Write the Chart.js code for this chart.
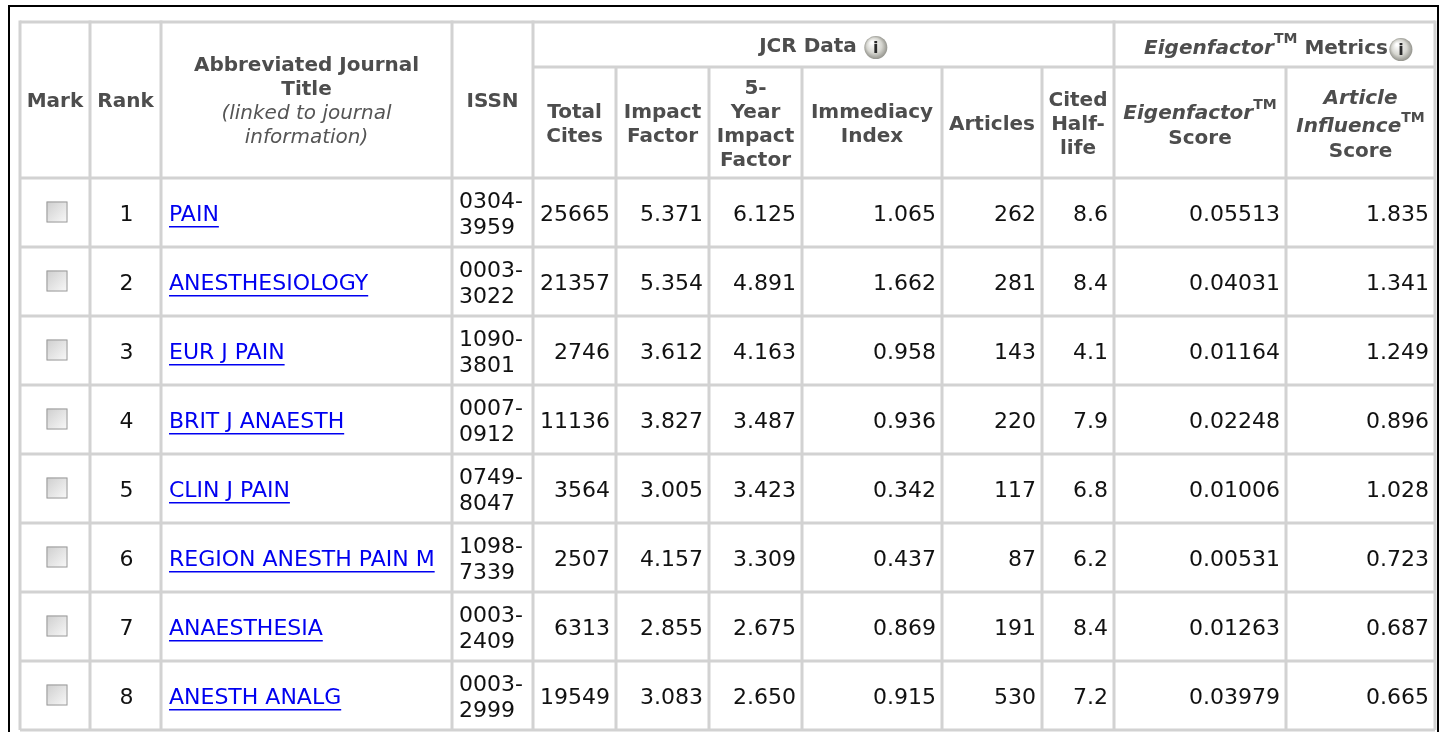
<!DOCTYPE html>
<html>
<head>
<meta charset="utf-8">
<script src="https://cdn.jsdelivr.net/npm/chart.js@4/dist/chart.umd.min.js"></script>
<style>
    html, body { margin: 0; padding: 0; background: #fff; }
    #wrap { width: 1445px; height: 732px; }
</style>
</head>
<body>
<div id="wrap"><canvas id="table" width="1445" height="732"></canvas></div>
<script>
// Table data
const ranks = [1, 2, 3, 4, 5, 6, 7, 8];
const journals = ["PAIN", "ANESTHESIOLOGY", "EUR J PAIN", "BRIT J ANAESTH", "CLIN J PAIN",
    "REGION ANESTH PAIN M", "ANAESTHESIA", "ANESTH ANALG"];
const issn = ["0304-3959", "0003-3022", "1090-3801", "0007-0912", "0749-8047",
    "1098-7339", "0003-2409", "0003-2999"];
const totalCites = [25665, 21357, 2746, 11136, 3564, 2507, 6313, 19549];
const impactFactor = [5.371, 5.354, 3.612, 3.827, 3.005, 4.157, 2.855, 3.083];
const fiveYearImpact = [6.125, 4.891, 4.163, 3.487, 3.423, 3.309, 2.675, 2.650];
const immediacyIndex = [1.065, 1.662, 0.958, 0.936, 0.342, 0.437, 0.869, 0.915];
const articles = [262, 281, 143, 220, 117, 87, 191, 530];
const citedHalfLife = [8.6, 8.4, 4.1, 7.9, 6.8, 6.2, 8.4, 7.2];
const eigenfactorScore = [0.05513, 0.04031, 0.01164, 0.02248, 0.01006, 0.00531, 0.01263, 0.03979];
const articleInfluence = [1.835, 1.341, 1.249, 0.896, 1.028, 0.723, 0.687, 0.665];

// Header labels
const groupLabels = ["JCR Data", "Eigenfactor", "Metrics"];
const leftHeaders = [["Mark"], ["Rank"], ["Abbreviated Journal", "Title"], ["ISSN"]];
const titleNote = ["(linked to journal", "information)"];
const jcrHeaders = [["Total", "Cites"], ["Impact", "Factor"], ["5-", "Year", "Impact", "Factor"],
    ["Immediacy", "Index"], ["Articles"], ["Cited", "Half-", "life"]];

// Layout (page units, mapped through the chart scales)
const colEdges = [20, 90, 161, 452, 533, 616, 709, 802, 942, 1042, 1114, 1286, 1435];
const headTop = 22, groupBottom = 67, headBottom = 178, rowHeight = 69;

const FONT = '"DejaVu Sans", Verdana, sans-serif';
const HEAD_COLOR = "#4d4d4d";
const GRID_COLOR = "#d2d2d2";

function measureRich(ctx, segs) {
    let w = 0;
    segs.forEach((s) => { ctx.font = s.font; s.w = ctx.measureText(s.t).width; w += s.w; });
    return w;
}

function drawRich(ctx, segs, x, y) {
    // segs: [{t, font, sup}] drawn left to right from x
    measureRich(ctx, segs);
    ctx.textAlign = "left";
    segs.forEach((s) => {
        ctx.font = s.font;
        ctx.fillText(s.t, x, y - (s.sup ? 9 : 0));
        x += s.w;
    });
    return x;
}

function drawRichCentered(ctx, segs, cx, y) {
    return drawRich(ctx, segs, cx - measureRich(ctx, segs) / 2, y);
}

function infoIcon(ctx, cx, cy) {
    const g = ctx.createRadialGradient(cx - 4, cy - 5, 1, cx, cy, 12);
    g.addColorStop(0, "#ffffff");
    g.addColorStop(0.6, "#d6d6d0");
    g.addColorStop(1, "#8f8f88");
    ctx.beginPath();
    ctx.arc(cx, cy, 11.5, 0, Math.PI * 2);
    ctx.fillStyle = g;
    ctx.fill();
    ctx.fillStyle = "#2a2a2a";
    ctx.font = "bold 16px " + FONT;
    ctx.textAlign = "center";
    ctx.fillText("i", cx, cy + 1);
}

function checkbox(ctx, cx, cy) {
    const g = ctx.createLinearGradient(cx - 10, cy - 10, cx + 10, cy + 10);
    g.addColorStop(0, "#cfcfcf");
    g.addColorStop(1, "#f8f8f8");
    ctx.fillStyle = g;
    ctx.fillRect(cx - 10.5, cy - 10.5, 21, 21);
    ctx.strokeStyle = "#9a9a9a";
    ctx.lineWidth = 1;
    ctx.strokeRect(cx - 10, cy - 10, 20, 20);
}

const tablePlugin = {
    id: "jcrTable",
    afterDraw(chart) {
        const ctx = chart.ctx;
        const sx = chart.scales.x, sy = chart.scales.y;
        const X = (v) => sx.getPixelForValue(v);
        const Y = (v) => sy.getPixelForValue(v);
        const rowEdges = [headBottom];
        ranks.forEach((_, i) => rowEdges.push(headBottom + rowHeight * (i + 1)));
        const bottom = rowEdges[rowEdges.length - 1];

        ctx.save();
        ctx.fillStyle = "#fff";
        ctx.fillRect(0, 0, chart.width, chart.height);

        // outer black frame
        ctx.strokeStyle = "#000";
        ctx.lineWidth = 2;
        ctx.strokeRect(X(9), Y(6), X(1438) - X(9), Y(745) - Y(6));

        // grid
        ctx.strokeStyle = GRID_COLOR;
        ctx.lineWidth = 3;
        const line = (x1, y1, x2, y2) => {
            ctx.beginPath();
            ctx.moveTo(X(x1), Y(y1));
            ctx.lineTo(X(x2), Y(y2));
            ctx.stroke();
        };
        colEdges.forEach((c, i) => {
            const full = i <= 4 || i === 10 || i === 12;
            line(c, full ? headTop - 1.5 : groupBottom, c, bottom);
        });
        line(colEdges[0], headTop, colEdges[12], headTop);
        line(colEdges[4], groupBottom, colEdges[12], groupBottom);
        rowEdges.forEach((r) => line(colEdges[0], r, colEdges[12], r));

        ctx.textBaseline = "middle";
        const mid = (i) => (X(colEdges[i]) + X(colEdges[i + 1])) / 2;
        const bold = "bold 20px " + FONT, ital = "italic bold 20px " + FONT, sup = "bold 14px " + FONT;

        // group headers, each followed by an info icon
        ctx.fillStyle = HEAD_COLOR;
        const gy = Y((headTop + groupBottom) / 2 + 2);
        let segs = [{ t: groupLabels[0], font: bold }];
        let w = measureRich(ctx, segs) + 31;
        let end = drawRich(ctx, segs, (X(colEdges[4]) + X(colEdges[10])) / 2 - w / 2, gy);
        infoIcon(ctx, end + 19, gy + 1);

        ctx.fillStyle = HEAD_COLOR;
        segs = [
            { t: groupLabels[1], font: ital },
            { t: "TM", font: sup, sup: true },
            { t: " " + groupLabels[2], font: bold },
        ];
        w = measureRich(ctx, segs) + 25;
        end = drawRich(ctx, segs, (X(colEdges[10]) + X(colEdges[12])) / 2 - w / 2 + 4, gy + 2);
        infoIcon(ctx, end + 13, gy + 3);

        // left headers spanning both header rows
        const lh = 24;
        leftHeaders.forEach((lines, i) => {
            const all = i === 2 ? lines.concat(titleNote) : lines;
            const cy = (Y(headTop) + Y(headBottom)) / 2 + 2;
            ctx.textAlign = "center";
            all.forEach((t, k) => {
                ctx.font = (k >= lines.length ? "italic 20px " : "bold 20px ") + FONT;
                ctx.fillStyle = k >= lines.length ? "#555" : HEAD_COLOR;
                ctx.fillText(t, mid(i), cy + (k - (all.length - 1) / 2) * lh);
            });
        });

        // JCR sub headers
        ctx.fillStyle = HEAD_COLOR;
        const subCy = (Y(groupBottom) + Y(headBottom)) / 2 + 2.5;
        jcrHeaders.forEach((lines, j) => {
            ctx.font = bold;
            ctx.textAlign = "center";
            lines.forEach((t, k) => {
                ctx.fillText(t, mid(4 + j), subCy + (k - (lines.length - 1) / 2) * lh);
            });
        });
        // Eigenfactor sub headers
        drawRichCentered(ctx, [{ t: "Eigenfactor", font: ital }, { t: "TM", font: sup, sup: true }], mid(10), subCy - 11);
        drawRichCentered(ctx, [{ t: "Score", font: bold }], mid(10), subCy + 14);
        drawRichCentered(ctx, [{ t: "Article", font: ital }], mid(11), subCy - 26);
        drawRichCentered(ctx, [{ t: "Influence", font: ital }, { t: "TM", font: sup, sup: true }], mid(11), subCy + 2);
        drawRichCentered(ctx, [{ t: "Score", font: bold }], mid(11), subCy + 27);

        // data rows
        const dataFont = "22px " + FONT;
        const pad = 6;
        ranks.forEach((rank, i) => {
            const cy = (Y(rowEdges[i]) + Y(rowEdges[i + 1])) / 2 + 2.5;
            checkbox(ctx, mid(0) + 2, cy - 3);
            ctx.font = dataFont;
            ctx.fillStyle = "#111";
            ctx.textAlign = "center";
            ctx.fillText(String(rank), mid(1) + 1, cy);

            // linked title
            ctx.textAlign = "left";
            ctx.fillStyle = "#0000f0";
            const tx = X(colEdges[2]) + 8;
            ctx.fillText(journals[i], tx, cy);
            const tw = ctx.measureText(journals[i]).width;
            ctx.fillRect(tx, cy + 11, tw, 1.5);

            // ISSN split over two lines
            ctx.fillStyle = "#111";
            const parts = issn[i].split("-");
            ctx.fillText(parts[0] + "-", X(colEdges[3]) + 7, cy - 13);
            ctx.fillText(parts[1], X(colEdges[3]) + 7, cy + 13);

            const vals = [
                String(totalCites[i]),
                impactFactor[i].toFixed(3),
                fiveYearImpact[i].toFixed(3),
                immediacyIndex[i].toFixed(3),
                String(articles[i]),
                citedHalfLife[i].toFixed(1),
                eigenfactorScore[i].toFixed(5),
                articleInfluence[i].toFixed(3),
            ];
            ctx.textAlign = "right";
            vals.forEach((v, j) => {
                ctx.fillText(v, X(colEdges[5 + j]) - pad, cy);
            });
        });
        ctx.restore();
    },
};

new Chart(document.getElementById("table"), {
    type: "scatter",
    data: { datasets: [{ data: [], pointRadius: 0 }] },
    options: {
        responsive: false,
        animation: false,
        events: [],
        layout: { padding: 0 },
        plugins: { legend: { display: false }, tooltip: { enabled: false } },
        scales: {
            x: { type: "linear", min: 0, max: 1445, display: false },
            y: { type: "linear", min: 0, max: 732, reverse: true, display: false },
        },
    },
    plugins: [tablePlugin],
});
</script>
</body>
</html>
